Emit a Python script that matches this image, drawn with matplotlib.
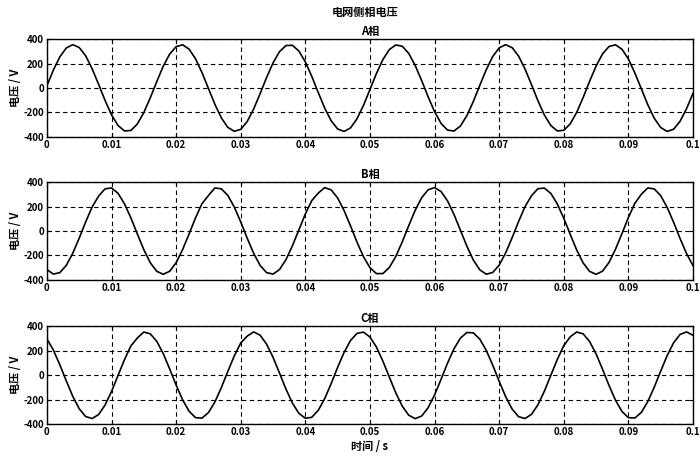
import numpy as np
import matplotlib.pyplot as plt

plt.rcParams['font.family'] = ['Noto Sans CJK SC', 'DejaVu Sans']
plt.rcParams['axes.unicode_minus'] = False

# 采样时刻 (s)，每 1 ms 一点
t = np.arange(101) * 0.001

ua = [18, 147, 255, 328, 355, 332, 264, 158, 31, -101,
      -219, -306, -351, -347, -294, -201, -80, 52, 178, 278,
      339, 354, 319, 240, 127, -3, -133, -244, -322, -354,
      -338, -274, -172, -46, 86, 206, 298, 348, 350, 303,
      214, 95, -37, -164, -268, -335, -355, -326, -251, -142,
      -12, 119, 233, 315, 353, 342, 284, 185, 62, -71,
      -193, -289, -344, -352, -311, -226, -110, 22, 150, 258,
      329, 355, 331, 262, 156, 28, -104, -221, -307, -351,
      -346, -293, -199, -77, 56, 180, 280, 340, 354, 318,
      238, 124, -6, -136, -247, -323, -355, -337, -272, -169,
      -43]

ub = [-316, -353, -341, -282, -183, -59, 74, 196, 285, 345,
      352, 309, 223, 107, -25, -153, -260, -330, -355, -330,
      -260, -153, -25, 107, 223, 290, 352, 345, 291, 196,
      74, -59, -183, -282, -341, -353, -316, -235, -121, 9,
      139, 249, 310, 355, 336, 270, 167, 40, -92, -211,
      -301, -349, -349, -299, -209, -89, 43, 169, 272, 337,
      355, 323, 247, 136, 6, -124, -238, -318, -354, -340,
      -280, -180, -56, 77, 199, 288, 346, 351, 307, 221,
      104, -28, -156, -262, -331, -355, -329, -258, -150, -22,
      110, 226, 300, 352, 344, 289, 193, 71, -62, -185,
      -284]

uc = [298, 206, 86, -46, -172, -274, -338, -354, -322, -244,
      -133, -3, 127, 240, 305, 354, 339, 278, 178, 52,
      -80, -201, -294, -347, -351, -306, -219, -101, 31, 158,
      264, 320, 355, 328, 255, 147, 18, -113, -228, -312,
      -352, -344, -287, -191, -68, 65, 188, 285, 343, 353,
      313, 231, 116, -15, -144, -253, -327, -355, -334, -266,
      -161, -34, 98, 216, 304, 350, 347, 296, 204, 83,
      -49, -175, -276, -339, -354, -320, -242, -130, 0, 130,
      242, 315, 354, 339, 276, 175, 49, -83, -204, -296,
      -347, -350, -304, -216, -98, 34, 161, 266, 334, 355,
      327]

phases = ['A相', 'B相', 'C相']
xticks = [0, 0.01, 0.02, 0.03, 0.04, 0.05, 0.06, 0.07, 0.08, 0.09, 0.1]
xticklabels = ['0', '0.01', '0.02', '0.03', '0.04', '0.05', '0.06', '0.07', '0.08', '0.09', '0.1']
yticks = [-400, -200, 0, 200, 400]

fig = plt.figure(figsize=(7, 4.61), dpi=100)
boxes = [[0.067, 0.703, 0.923, 0.212],
         [0.067, 0.393, 0.923, 0.212],
         [0.067, 0.080, 0.923, 0.212]]

for box, u, name in zip(boxes, [ua, ub, uc], phases):
    ax = fig.add_axes(box)
    ax.plot(t, u, color='black', lw=1.2, solid_joinstyle='round')
    ax.set_xlim(0, 0.1)
    ax.set_ylim(-400, 400)
    ax.set_xticks(xticks)
    ax.set_xticklabels(xticklabels, fontsize=7, fontweight='bold')
    ax.set_yticks(yticks)
    ax.set_yticklabels([str(v) for v in yticks], fontsize=7, fontweight='bold')
    ax.tick_params(direction='in', top=True, right=True, length=3, pad=2)
    ax.grid(True, color='black', linestyle=(0, (4, 3)), lw=0.8)
    ax.set_title(name, fontsize=8, fontweight='bold', pad=3)
    ax.set_ylabel('电压 / V', fontsize=8, fontweight='bold', labelpad=1)
    for s in ax.spines.values():
        s.set_linewidth(1.0)

fig.text(0.521, 0.972, '电网侧相电压', ha='center', va='center', fontsize=8, fontweight='bold')
ax.set_xlabel('时间 / s', fontsize=8, fontweight='bold', labelpad=2)

fig.savefig('out.png', dpi=100)
